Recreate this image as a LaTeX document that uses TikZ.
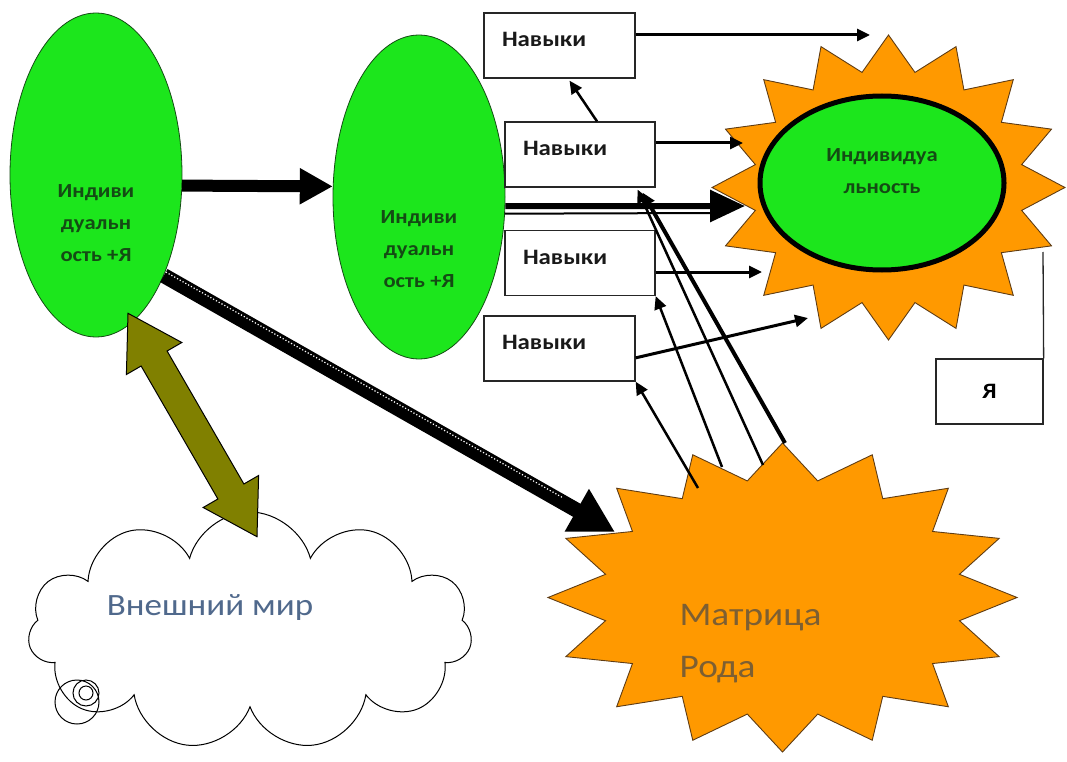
\documentclass[tikz,border=0pt]{standalone}
\usepackage{fontspec}
\setmainfont{Carlito}[FakeStretch=1.13]
\usepackage{tikz}
\usetikzlibrary{arrows.meta}
\usetikzlibrary{calc}
\usetikzlibrary{shapes.geometric,shapes.symbols,shapes.arrows}
\definecolor{leaf}{RGB}{28,230,28}
\definecolor{leafdark}{RGB}{20,75,20}
\definecolor{sun}{RGB}{255,153,0}
\definecolor{sunline}{RGB}{95,60,20}
\definecolor{olivearrow}{RGB}{128,128,0}
\definecolor{worldtext}{RGB}{80,105,140}
\definecolor{rodtext}{RGB}{125,95,50}
\newcommand\indtxt{\fontsize{20}{32}\selectfont\bfseries}
\newcommand\skilltxt{\fontsize{22}{26}\selectfont\bfseries}
\newcommand\worldtxt{\fontsize{31}{36}\selectfont}
\newcommand\rodtxt{\fontsize{33}{52}\selectfont}
\newcommand\yatxt{\fontsize{22}{26}\selectfont\bfseries}
\tikzstyle{indiv}=[ellipse,draw=leafdark,line width=.8pt,fill=leaf,minimum width=172pt,minimum height=324pt,inner sep=0pt]
\tikzstyle{indlab}=[text=leafdark,font=\indtxt,align=center]
\tikzstyle{skill}=[draw=black!85,line width=1.3pt,fill=white,text=black!90,text width=115pt,inner xsep=18pt,text height=14pt,text depth=12pt,minimum height=65pt,align=left,font=\skilltxt]
\tikzstyle{burst}=[star,star points=16,star point ratio=1.3,draw=sunline,line width=.9pt,fill=sun,inner sep=0pt]
\tikzstyle{link}=[line width=3pt,-{Triangle[length=13pt,width=12pt]}]
\tikzstyle{fat}=[line width=12pt,-{Triangle[length=33pt,width=34pt]}]

\begin{document}
\begin{tikzpicture}[x=1pt,y=-1pt]
	\useasboundingbox (0,0) rectangle (1067,762);
	% outer world
	\node[cloud,cloud puffs=11,cloud ignores aspect,draw,line width=1pt,fill=white,minimum width=444pt,minimum height=238pt,
		label={[text=worldtext,font=\worldtxt,xshift=-40pt,yshift=23pt]center:Внешний мир}] (world) at (250,631) {};
	\draw[line width=1pt] (77,702) circle[radius=22] (86,693) circle[radius=13] (86,693) circle[radius=7];
	% individuality
	\node[indiv,label={[indlab,yshift=-48pt]center:Индиви\\дуальн\\ость +Я}] (ind1) at (96,175) {};
	\node[indiv,label={[indlab,yshift=-52pt]center:Индиви\\дуальн\\ость +Я}] (ind2) at (419,197) {};
	\begin{scope}[shift={(888.5,187.5)}]
		\node[burst,minimum size=305pt,xscale=1.157] (self) at (0,0) {};
	\end{scope}
	\node[ellipse,draw,line width=5pt,fill=leaf,minimum width=244pt,minimum height=174pt,
		label={[indlab,yshift=12pt]center:Индивидуа\\льность}] (core) at (882,183) {};
	% matrix of the kin
	\begin{scope}[shift={(782.5,597.5)}]
		\node[burst,minimum size=309pt,xscale=1.518] (rod) at (0,0) {};
	\end{scope}
	\node[anchor=west,align=left,text=rodtext,font=\rodtxt] (rodname) at (676,644) {Матрица\\Рода};
	% skills
	\node[skill] (nav1) at (559.5,45.5) {Навыки};
	\node[skill,text width=114pt] (nav2) at (580,154.5) {Навыки};
	\node[skill,text width=114pt] (nav3) at (580,263) {Навыки};
	\node[skill] (nav4) at (559.5,348.5) {Навыки};
	\node[draw=black!85,line width=1.3pt,minimum width=107pt,minimum height=65pt,font=\yatxt] (ya) at (989.5,391.5) {Я};
	\coordinate (sunA) at (870,35);
	\coordinate (sunB) at (745,206);
	\coordinate (sunB2) at (711,213);
	\coordinate (sunC) at (743,143);
	\coordinate (sunD) at (762,272);
	\coordinate (sunE) at (808,318);
	\coordinate (yaend) at (1043,252);
	\coordinate (rodA) at (615,532);
	\coordinate (rodF) at (698,488);
	\coordinate (rodG) at (722,467);
	\coordinate (rodH) at (763,465);
	\coordinate (rodI) at (785,443);
	\coordinate (olA) at (128,313);
	\coordinate (olB) at (257,537);
	% connections
	\draw[fat] (ind1.-7) -- (ind2.173);
	\draw[line width=15pt,-{Triangle[length=44pt,width=46pt]}] (ind1.-56) -- (rodA);
	\draw[white,line width=1.2pt,dotted] ($(ind1.-56)+(2,-3.5)$) -- ($(ind1.-56)!0.88!(rodA)+(2,-3.5)$);
	\draw[line width=6pt,-{Triangle[length=35pt,width=31pt]}] (ind2.-6) -- (sunB);
	\draw[line width=2pt] (ind2.-11) -- (sunB2);
	\draw[link] (nav1.east |- sunA) -- (sunA);
	\draw[link] (nav2.east |- sunC) -- (sunC);
	\draw[link] (nav3.east |- sunD) -- (sunD);
	\draw[link] (nav4.-7) -- (sunE);
	\draw[link,line width=2.5pt] ($(nav2.north)+(17,0)$) -- ($(nav1.south)+(10,2)$);
	\draw[link,line width=2.5pt] (rodF) -- (nav4.south east);
	\draw[link,line width=2.5pt] (rodG) -- (nav3.south east);
	\draw[link,line width=2.5pt] (rodH) -- ($(nav2.south east)+(-18,2)$);
	\draw[link,line width=4pt] (rodI) -- ($(nav2.south east)+(-13,5)$);
	\draw[line width=1.3pt,black!85] (ya.north east) -- (yaend);
	\node[double arrow,draw,line width=1pt,fill=olivearrow,minimum height=258pt,inner xsep=0pt,inner ysep=14.5pt,
		double arrow head extend=17pt,double arrow tip angle=63,rotate=-60] (wa) at ($(olA)!0.5!(olB)$) {};
\end{tikzpicture}
\end{document}
